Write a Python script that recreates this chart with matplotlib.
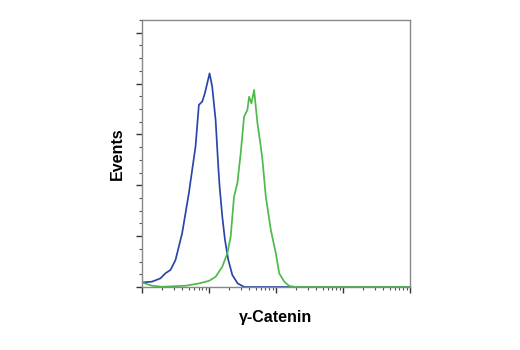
import matplotlib
matplotlib.use('Agg')
import matplotlib.pyplot as plt
from matplotlib.ticker import LogLocator, MultipleLocator, NullFormatter
import numpy as np

# log10 of fluorescence intensity
blue_x = [0.0, 0.15, 0.276, 0.351, 0.426, 0.501, 0.60, 0.70, 0.80, 0.85, 0.90,
          0.94, 0.975, 1.01, 1.049, 1.10, 1.14, 1.16, 1.20, 1.24, 1.29, 1.35,
          1.43, 1.53, 1.7, 4.0]
blue_y = [1.8, 2.1, 3.4, 5.4, 6.7, 10.6, 21.1, 36.8, 55.2, 71.6, 72.9,
          76.2, 80.1, 84.0, 78.8, 65.7, 47.3, 39.4, 27.6, 18.5, 10.6, 4.7,
          1.4, 0.0, 0.0, 0.0]

green_x = [0.0, 0.15, 0.30, 0.65, 0.85, 1.0, 1.10, 1.20, 1.275, 1.325, 1.375,
           1.425, 1.475, 1.525, 1.575, 1.60, 1.635, 1.675, 1.725, 1.775,
           1.80, 1.85, 1.925, 2.0, 2.05, 2.125, 2.2, 2.3, 4.0]
green_y = [1.8, 0.5, 0.1, 0.5, 1.4, 2.4, 4.0, 8.0, 13.2, 19.8, 35.5,
           40.8, 52.6, 67.0, 69.6, 74.8, 72.2, 77.5, 64.4, 55.2,
           49.9, 35.5, 22.4, 13.2, 5.4, 2.1, 0.4, 0.0, 0.0]

fig = plt.figure(figsize=(5.2, 3.5), dpi=100)
ax = fig.add_axes([0.273, 0.18, 0.515, 0.763])

ax.plot(10 ** np.array(blue_x), blue_y, color='#2c45a8', lw=1.25)
ax.plot(10 ** np.array(green_x), green_y, color='#4cbb47', lw=1.25)

ax.set_xscale('log')
ax.set_xlim(1, 1e4)
ax.set_ylim(0, 105)

ax.xaxis.set_major_locator(LogLocator(base=10, numticks=10))
ax.xaxis.set_minor_locator(LogLocator(base=10, subs=np.arange(2, 10), numticks=10))
ax.xaxis.set_major_formatter(NullFormatter())
ax.xaxis.set_minor_formatter(NullFormatter())
ax.yaxis.set_major_locator(MultipleLocator(20))
ax.yaxis.set_minor_locator(MultipleLocator(5))
ax.yaxis.set_major_formatter(NullFormatter())

ax.tick_params(which='major', length=4, width=1, color='#333333', direction='out')
ax.tick_params(which='minor', length=2, width=0.8, color='#555555', direction='out')
for s in ax.spines.values():
    s.set_color('#888888')
    s.set_linewidth(1.0)

font = ['Liberation Sans', 'DejaVu Sans']
ax.set_ylabel('Events', family=font, fontweight='bold', fontsize=11.5, labelpad=5)
ax.set_xlabel('γ-Catenin', family=font, fontweight='bold', fontsize=11.5, labelpad=9)

fig.savefig('out.png', dpi=100)
